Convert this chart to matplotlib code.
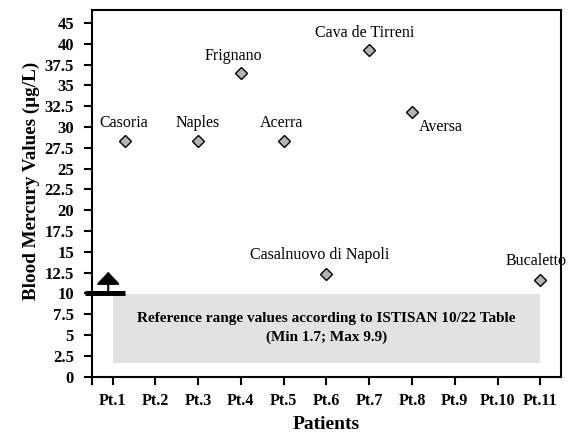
import matplotlib
matplotlib.use('Agg')
import matplotlib.pyplot as plt
from matplotlib.patches import Rectangle

plt.rcParams['font.family'] = ['Liberation Serif', 'DejaVu Serif']

# data
patients = ['Pt.1', 'Pt.2', 'Pt.3', 'Pt.4', 'Pt.5', 'Pt.6', 'Pt.7', 'Pt.8', 'Pt.9', 'Pt.10', 'Pt.11']
towns = ['Casoria', 'Naples', 'Frignano', 'Acerra', 'Casalnuovo di Napoli',
         'Cava de Tirreni', 'Aversa', 'Bucaletto']
town_x = [1.3, 3, 4, 5, 6, 7, 8, 11]
mercury = [28.3, 28.3, 36.5, 28.3, 12.3, 39.3, 31.8, 11.6]
label_x = [1.27, 3.0, 3.82, 4.96, 5.85, 6.9, 8.68, 10.9]
label_y = [30.5, 30.5, 38.5, 30.5, 14.6, 41.3, 30.0, 13.9]
ref_min, ref_max = 1.7, 9.9
y_ticks = [i * 2.5 for i in range(18)]
y_labels = ['0', '2.5', '5', '7.5', '10', '12.5', '15', '17.5', '20', '22.5', '25',
            '27.5', '30', '32.5', '35', '37.5', '40', '45']

fig = plt.figure(figsize=(5.77, 4.36), dpi=100)
ax = fig.add_axes([0.1594, 0.136, 0.8129, 0.841])

# reference range box
ax.add_patch(Rectangle((1, ref_min), 10, ref_max - ref_min, facecolor='#e2e2e2',
                       edgecolor='none', zorder=1))
ax.text(6, 5.85, 'Reference range values according to ISTISAN 10/22 Table\n(Min 1.7; Max 9.9)',
        ha='center', va='center', fontsize=11, fontweight='bold', linespacing=1.5, zorder=2)

# threshold bar and arrow
ax.plot([0.36, 1.3], [10, 10], color='black', lw=3.6, clip_on=False, zorder=4,
        solid_capstyle='butt')
ax.annotate('', xy=(0.9, 12.6), xytext=(0.9, 10),
            arrowprops=dict(arrowstyle='-|>,head_length=0.76,head_width=0.72',
                            color='black', lw=1.5, shrinkA=0, shrinkB=0), zorder=4)

ax.plot(town_x, mercury, linestyle='none', marker='D', markersize=6,
        markerfacecolor='#b4b4b4', markeredgecolor='black', markeredgewidth=1, zorder=3)
for t, lx, ly in zip(towns, label_x, label_y):
    ax.text(lx, ly, t, ha='center', va='center', fontsize=11.5)

ax.set_xlim(0.52, 11.48)
ax.set_ylim(0, 44.05)
ax.set_xticks([0.52] + list(range(1, 12)))
ax.set_xticklabels([''] + patients, fontsize=11.5, fontweight='bold')
ax.set_yticks(y_ticks)
ax.set_yticklabels(y_labels, fontsize=12, fontweight='bold')
ax.tick_params(axis='both', direction='out', length=6, width=1.5)
ax.tick_params(axis='x', pad=6)
ax.tick_params(axis='y', pad=7)
for s in ax.spines.values():
    s.set_linewidth(1.5)

ax.set_xlabel('Patients', fontsize=14, fontweight='bold', labelpad=5)
ax.set_ylabel('Blood Mercury Values (μg/L)', fontsize=13.8, fontweight='bold')
ax.yaxis.set_label_coords(-0.111, 0.534)

fig.savefig('out.png', dpi=100)
